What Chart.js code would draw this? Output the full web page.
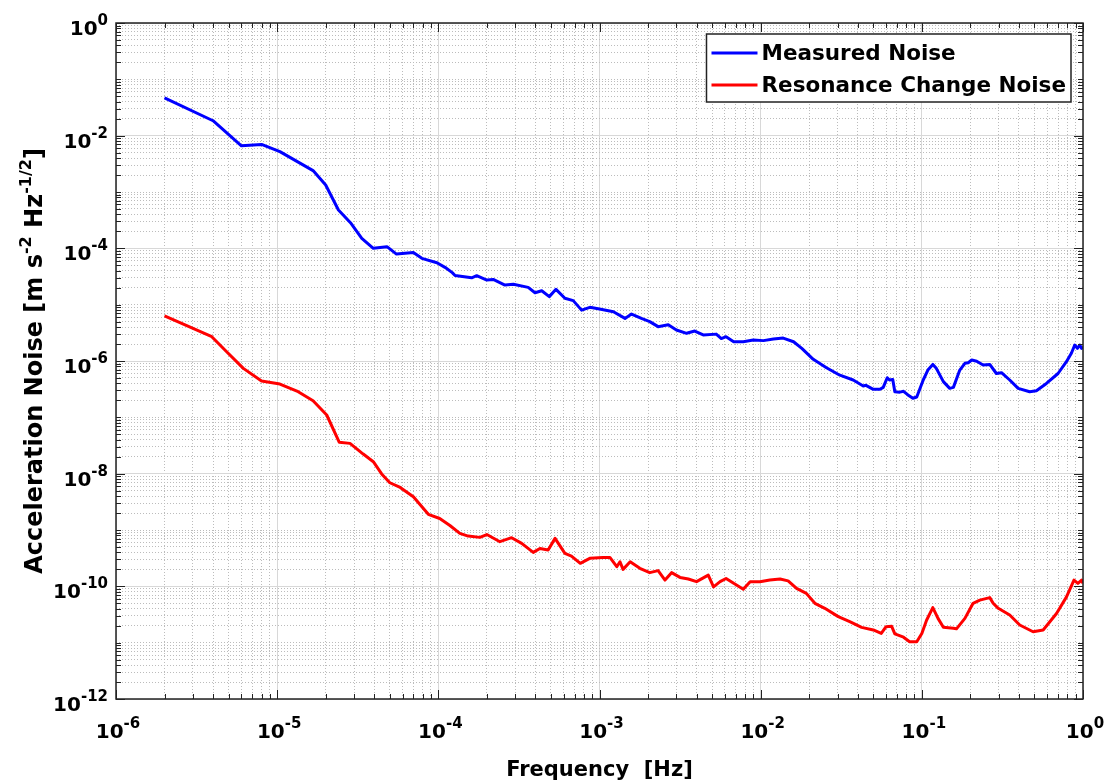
<!DOCTYPE html>
<html>
<head>
<meta charset="utf-8">
<title>Acceleration Noise</title>
<script src="https://cdn.jsdelivr.net/npm/chart.js@4.4.1/dist/chart.umd.min.js"></script>
<style>
  html, body { margin: 0; padding: 0; background: #fff; }
  canvas { display: block; }
</style>
</head>
<body>
<canvas id="noiseChart" width="1107" height="784"></canvas>
<script>
// Measured noise spectrum [Hz] -> [m s^-2 Hz^-1/2]
const measuredFreq = [
  2.0e-6, 4.0e-6, 6.0e-6, 8.0e-6, 1.04e-5, 1.67e-5, 2.0e-5, 2.4e-5, 2.85e-5, 3.35e-5,
  3.95e-5, 4.8e-5, 5.5e-5, 7.0e-5, 7.9e-5, 9.8e-5, 1.1e-4, 1.22e-4, 1.27e-4, 1.61e-4,
  1.73e-4, 2.0e-4, 2.19e-4, 2.59e-4, 2.92e-4, 3.61e-4, 3.98e-4, 4.38e-4, 4.88e-4, 5.37e-4,
  6.1e-4, 6.87e-4, 7.74e-4, 8.71e-4, 1.0e-3, 1.22e-3, 1.44e-3, 1.58e-3, 1.82e-3, 2.05e-3,
  2.31e-3, 2.67e-3, 3.0e-3, 3.47e-3, 3.9e-3, 4.4e-3, 5.3e-3, 5.7e-3, 6.1e-3, 6.8e-3,
  7.8e-3, 9.0e-3, 1.04e-2, 1.2e-2, 1.38e-2, 1.6e-2, 1.8e-2, 2.12e-2, 2.56e-2, 3.1e-2,
  3.75e-2, 4.33e-2, 4.5e-2, 5.0e-2, 5.5e-2, 5.76e-2, 6.1e-2, 6.3e-2, 6.6e-2, 6.8e-2,
  7.3e-2, 7.7e-2, 8.2e-2, 8.8e-2, 9.3e-2, 0.102, 0.109, 0.117, 0.123, 0.136,
  0.149, 0.157, 0.172, 0.185, 0.194, 0.204, 0.219, 0.24, 0.264, 0.29,
  0.312, 0.351, 0.396, 0.467, 0.514, 0.593, 0.70, 0.789, 0.847, 0.889,
  0.923, 0.955, 0.98, 1.0
];
const measuredNoise = [
  0.047, 0.0184, 0.0066, 0.0070, 0.0052, 0.0024, 0.00133, 0.00048, 0.000285, 0.00015,
  1.0e-4, 1.07e-4, 7.9e-5, 8.4e-5, 6.65e-5, 5.55e-5, 4.6e-5, 3.7e-5, 3.3e-5, 3.0e-5,
  3.27e-5, 2.74e-5, 2.8e-5, 2.23e-5, 2.3e-5, 2.03e-5, 1.63e-5, 1.77e-5, 1.39e-5, 1.87e-5,
  1.3e-5, 1.18e-5, 8.0e-6, 8.97e-6, 8.37e-6, 7.5e-6, 5.7e-6, 6.8e-6, 5.7e-6, 5.0e-6,
  4.07e-6, 4.4e-6, 3.55e-6, 3.1e-6, 3.4e-6, 2.9e-6, 3.0e-6, 2.5e-6, 2.7e-6, 2.2e-6,
  2.2e-6, 2.36e-6, 2.3e-6, 2.45e-6, 2.55e-6, 2.2e-6, 1.68e-6, 1.07e-6, 7.6e-7, 5.6e-7,
  4.6e-7, 3.6e-7, 3.7e-7, 3.14e-7, 3.14e-7, 3.4e-7, 5.05e-7, 4.6e-7, 4.7e-7, 2.85e-7,
  2.8e-7, 2.9e-7, 2.5e-7, 2.18e-7, 2.3e-7, 4.6e-7, 6.9e-7, 8.7e-7, 7.4e-7, 4.3e-7,
  3.27e-7, 3.4e-7, 6.9e-7, 9.1e-7, 9.3e-7, 1.04e-6, 9.9e-7, 8.5e-7, 8.7e-7, 6.0e-7,
  6.2e-7, 4.6e-7, 3.27e-7, 2.85e-7, 2.97e-7, 4.0e-7, 6.0e-7, 9.7e-7, 1.37e-6, 1.92e-6,
  1.68e-6, 1.92e-6, 1.68e-6, 1.8e-6
];

// Noise from resonance frequency change
const resonanceFreq = [
  2.0e-6, 3.93e-6, 4.86e-6, 6.17e-6, 8.0e-6, 1.04e-5, 1.35e-5, 1.67e-5, 2.03e-5, 2.43e-5,
  2.83e-5, 3.42e-5, 3.95e-5, 4.45e-5, 5.0e-5, 5.8e-5, 7.0e-5, 8.67e-5, 1.02e-4, 1.18e-4,
  1.36e-4, 1.53e-4, 1.81e-4, 2.0e-4, 2.41e-4, 2.85e-4, 3.29e-4, 3.88e-4, 4.27e-4, 4.8e-4,
  5.3e-4, 6.1e-4, 6.7e-4, 7.6e-4, 8.7e-4, 1.05e-3, 1.16e-3, 1.28e-3, 1.34e-3, 1.4e-3,
  1.55e-3, 1.78e-3, 2.05e-3, 2.31e-3, 2.55e-3, 2.8e-3, 3.16e-3, 3.56e-3, 4.0e-3, 4.73e-3,
  5.1e-3, 5.6e-3, 6.1e-3, 6.8e-3, 7.8e-3, 8.6e-3, 9.9e-3, 1.14e-2, 1.32e-2, 1.48e-2,
  1.67e-2, 1.92e-2, 2.17e-2, 2.5e-2, 3.03e-2, 3.57e-2, 4.23e-2, 5.0e-2, 5.6e-2, 6.0e-2,
  6.5e-2, 6.8e-2, 7.7e-2, 8.4e-2, 9.3e-2, 0.1, 0.107, 0.117, 0.126, 0.136,
  0.157, 0.164, 0.185, 0.208, 0.229, 0.264, 0.277, 0.298, 0.351, 0.405,
  0.49, 0.566, 0.685, 0.79, 0.879, 0.93, 0.98, 1.0
];
const resonanceNoise = [
  6.3e-6, 2.7e-6, 1.46e-6, 7.4e-7, 4.4e-7, 3.9e-7, 2.85e-7, 1.97e-7, 1.1e-7, 3.6e-8,
  3.45e-8, 2.23e-8, 1.63e-8, 9.9e-9, 6.9e-9, 5.7e-9, 3.9e-9, 1.9e-9, 1.6e-9, 1.2e-9,
  8.7e-10, 7.8e-10, 7.4e-10, 8.3e-10, 6.2e-10, 7.3e-10, 5.8e-10, 4.0e-10, 4.7e-10, 4.4e-10,
  7.1e-10, 3.85e-10, 3.45e-10, 2.56e-10, 3.14e-10, 3.26e-10, 3.26e-10, 2.23e-10, 2.73e-10, 2.0e-10,
  2.73e-10, 2.09e-10, 1.75e-10, 1.9e-10, 1.29e-10, 1.75e-10, 1.44e-10, 1.35e-10, 1.21e-10, 1.58e-10,
  9.8e-11, 1.21e-10, 1.38e-10, 1.13e-10, 8.9e-11, 1.21e-10, 1.21e-10, 1.29e-10, 1.35e-10, 1.25e-10,
  9.2e-11, 7.5e-11, 5.0e-11, 4.07e-11, 2.9e-11, 2.36e-11, 1.87e-11, 1.68e-11, 1.46e-11, 1.92e-11,
  1.95e-11, 1.43e-11, 1.25e-11, 1.04e-11, 1.04e-11, 1.46e-11, 2.5e-11, 4.2e-11, 2.7e-11, 1.87e-11,
  1.8e-11, 1.76e-11, 2.7e-11, 5.0e-11, 5.7e-11, 6.3e-11, 5.0e-11, 4.07e-11, 3.1e-11, 2.06e-11,
  1.56e-11, 1.68e-11, 3.3e-11, 6.5e-11, 1.29e-10, 1.13e-10, 1.29e-10, 1.13e-10
];

const seriesNames = ['Measured Noise', 'Resonance Change Noise'];

// decade exponents that carry a "10^n" label
const xTickExponents = [-6, -5, -4, -3, -2, -1, 0];
const yTickExponents = [-12, -10, -8, -6, -4, -2, 0];

const FONT = '"DejaVu Sans", sans-serif';

function toPoints(xs, ys) {
  return xs.map((x, i) => ({ x: x, y: ys[i] }));
}

// 1..9 x 10^e for every decade, so each one gets a grid line
function logTicks(lo, hi, isMajor) {
  const ticks = [];
  for (let e = lo; e < hi; e++) {
    for (let m = 1; m <= 9; m++) {
      ticks.push({ value: m * Math.pow(10, e), major: m === 1 && isMajor(e) });
    }
  }
  ticks.push({ value: Math.pow(10, hi), major: isMajor(hi) });
  return ticks;
}

// draws "10" followed by a raised exponent (or any text/superscript mix)
function drawParts(ctx, parts, x, y, align) {
  let width = 0;
  parts.forEach(p => {
    ctx.font = 'bold ' + p.size + 'px ' + FONT;
    width += ctx.measureText(p.text).width;
  });
  let cx = x;
  if (align === 'right') cx = x - width;
  if (align === 'center') cx = x - width / 2;
  ctx.textAlign = 'left';
  ctx.textBaseline = 'alphabetic';
  parts.forEach(p => {
    ctx.font = 'bold ' + p.size + 'px ' + FONT;
    ctx.fillText(p.text, cx, y - (p.rise || 0));
    cx += ctx.measureText(p.text).width;
  });
}

function powerLabel(exp) {
  return [
    { text: '10', size: 20 },
    { text: String(exp), size: 15, rise: 10 }
  ];
}

const gridColor = ctx => (ctx.tick && ctx.tick.major) ? '#d8d8d8' : '#bcbcbc';
const gridDash = ctx => (ctx.tick && !ctx.tick.major) ? [1, 2] : [];

const axesDecor = {
  id: 'axesDecor',
  afterDraw(chart) {
    const ctx = chart.ctx;
    const area = chart.chartArea;
    const xs = chart.scales.x;
    const ys = chart.scales.y;
    ctx.save();

    // box and inward tick marks on all four sides
    ctx.strokeStyle = '#222';
    ctx.lineWidth = 1.5;
    ctx.strokeRect(area.left, area.top, area.right - area.left, area.bottom - area.top);
    ctx.lineWidth = 1;
    ctx.beginPath();
    xs.ticks.forEach(t => {
      const px = Math.round(xs.getPixelForValue(t.value)) + 0.5;
      const len = t.major ? 9 : 5;
      ctx.moveTo(px, area.bottom); ctx.lineTo(px, area.bottom - len);
      ctx.moveTo(px, area.top); ctx.lineTo(px, area.top + len);
    });
    ys.ticks.forEach(t => {
      const py = Math.round(ys.getPixelForValue(t.value)) + 0.5;
      const len = t.major ? 9 : 5;
      ctx.moveTo(area.left, py); ctx.lineTo(area.left + len, py);
      ctx.moveTo(area.right, py); ctx.lineTo(area.right - len, py);
    });
    ctx.stroke();

    // tick labels
    ctx.fillStyle = '#000';
    xTickExponents.forEach(e => {
      drawParts(ctx, powerLabel(e), xs.getPixelForValue(Math.pow(10, e)) + 2, area.bottom + 39, 'center');
    });
    yTickExponents.forEach(e => {
      drawParts(ctx, powerLabel(e), area.left - 8, ys.getPixelForValue(Math.pow(10, e)) + 12, 'right');
    });

    // axis titles
    drawParts(ctx, [{ text: 'Frequency  [Hz]', size: 21 }], (area.left + area.right) / 2, area.bottom + 77, 'center');
    ctx.save();
    ctx.translate(42, (area.top + area.bottom) / 2);
    ctx.rotate(-Math.PI / 2);
    drawParts(ctx, [
      { text: 'Acceleration Noise [m s', size: 24 },
      { text: '-2', size: 16, rise: 11 },
      { text: ' Hz', size: 24 },
      { text: '-1/2', size: 16, rise: 11 },
      { text: ']', size: 24 }
    ], 0, 0, 'center');
    ctx.restore();

    // legend box in the upper right corner
    const legendFont = 'bold 21.5px ' + FONT;
    ctx.font = legendFont;
    const textW = Math.max(...chart.data.datasets.map(d => ctx.measureText(d.label).width));
    const boxRight = area.right - 12;
    const boxTop = area.top + 11;
    const boxW = 55 + textW + 5;
    const boxH = 68;
    const boxLeft = boxRight - boxW;
    ctx.fillStyle = '#fff';
    ctx.fillRect(boxLeft, boxTop, boxW, boxH);
    ctx.strokeStyle = '#222';
    ctx.lineWidth = 1.5;
    ctx.strokeRect(boxLeft, boxTop, boxW, boxH);
    chart.data.datasets.forEach((d, i) => {
      const ly = boxTop + 19 + i * 32;
      ctx.strokeStyle = d.borderColor;
      ctx.lineWidth = 3;
      ctx.beginPath();
      ctx.moveTo(boxLeft + 5, ly);
      ctx.lineTo(boxLeft + 51, ly);
      ctx.stroke();
      ctx.fillStyle = '#000';
      ctx.font = legendFont;
      ctx.textAlign = 'left';
      ctx.textBaseline = 'middle';
      ctx.fillText(d.label, boxLeft + 55, ly + 1);
    });
    ctx.restore();
  }
};

new Chart(document.getElementById('noiseChart'), {
  type: 'line',
  data: {
    datasets: [
      {
        label: seriesNames[0],
        data: toPoints(measuredFreq, measuredNoise),
        borderColor: '#0000ff',
        borderWidth: 3,
        pointRadius: 0,
        tension: 0,
        borderJoinStyle: 'round'
      },
      {
        label: seriesNames[1],
        data: toPoints(resonanceFreq, resonanceNoise),
        borderColor: '#ff0000',
        borderWidth: 3,
        pointRadius: 0,
        tension: 0,
        borderJoinStyle: 'round'
      }
    ]
  },
  plugins: [axesDecor],
  options: {
    responsive: false,
    animation: false,
    devicePixelRatio: 1,
    layout: { padding: { left: 116, right: 24, top: 23, bottom: 85 } },
    plugins: {
      legend: { display: false },
      tooltip: { enabled: false }
    },
    scales: {
      x: {
        type: 'logarithmic',
        min: 1e-6,
        max: 1,
        afterBuildTicks: scale => { scale.ticks = logTicks(-6, 0, () => true); },
        ticks: { display: false, autoSkip: false },
        grid: { drawTicks: false, color: gridColor, lineWidth: 1 },
        border: { display: false, dash: gridDash }
      },
      y: {
        type: 'logarithmic',
        min: 1e-12,
        max: 1,
        afterBuildTicks: scale => { scale.ticks = logTicks(-12, 0, e => e % 2 === 0); },
        ticks: { display: false, autoSkip: false },
        grid: { drawTicks: false, color: gridColor, lineWidth: 1 },
        border: { display: false, dash: gridDash }
      }
    }
  }
});
</script>
</body>
</html>
